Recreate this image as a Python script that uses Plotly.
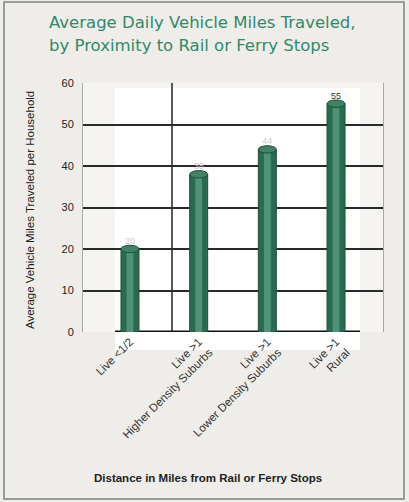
import plotly.graph_objects as go

categories = ["Live <1/2", "Live >1<br>Higher Density Suburbs", "Live >1<br>Lower Density Suburbs", "Live >1<br>Rural"]
values = [20, 38, 44, 55]
value_labels = ["20", "38", "44", "55"]
y_ticks = [0, 10, 20, 30, 40, 50, 60]

W, H = 409, 502
L, R, T, B = 83, 26, 83, 170
pw, ph = W - L - R, H - T - B

def px(x):
    return (x - L) / pw

def py(y):
    return (H - B - y) / ph

bar_w = 0.262
idx = list(range(len(categories)))

fig = go.Figure()
fig.add_trace(go.Bar(
    x=idx, y=values, width=bar_w,
    marker=dict(color="#2a6a51", line=dict(color="#1f4f3c", width=1)),
    text=value_labels, textposition="outside",
    textfont=dict(size=9, color=["#c9c9c9", "#c9c9c9", "#c9c9c9", "#333333"], family="Liberation Sans"),
    cliponaxis=False, hoverinfo="skip", showlegend=False,
))
fig.add_trace(go.Bar(
    x=idx, y=values, width=bar_w * 0.38,
    marker=dict(color="#4e9378", line=dict(width=0)),
    hoverinfo="skip", showlegend=False,
))

shapes = []
shapes.append(dict(type="rect", xref="paper", yref="paper",
                   x0=px(4), x1=px(404), y0=py(499), y1=py(2),
                   line=dict(color="#9b9b9b", width=2), fillcolor="rgba(0,0,0,0)", layer="below"))
shapes.append(dict(type="rect", xref="paper", yref="paper",
                   x0=px(115), x1=px(360), y0=py(350), y1=py(88),
                   line=dict(width=0), fillcolor="#ffffff", layer="below"))
shapes.append(dict(type="line", xref="paper", yref="paper",
                   x0=px(172), x1=px(172), y0=0, y1=1,
                   line=dict(color="#222222", width=1.5), layer="below"))
shapes.append(dict(type="line", xref="paper", yref="y",
                   x0=px(115), x1=px(360), y0=0, y1=0,
                   line=dict(color="#111111", width=3), layer="below"))
for i, v in zip(idx, values):
    shapes.append(dict(type="circle", xref="x", yref="y",
                       x0=i - bar_w / 2, x1=i + bar_w / 2, y0=v - 0.9, y1=v + 0.9,
                       fillcolor="#3f8266", line=dict(color="#1f4f3c", width=1), layer="above"))

title_font = dict(family="DejaVu Sans", size=16.5, color="#2f8a6b")
annotations = [
    dict(text="Average Daily Vehicle Miles Traveled,", xref="paper", yref="paper",
         x=px(47), y=py(22), xanchor="left", yanchor="middle", showarrow=False, font=title_font),
    dict(text="by Proximity to Rail or Ferry Stops", xref="paper", yref="paper",
         x=px(47), y=py(45), xanchor="left", yanchor="middle", showarrow=False, font=title_font),
    dict(text="<b>Distance in Miles from Rail or Ferry Stops</b>", xref="paper", yref="paper",
         x=px(208), y=py(478), xanchor="center", yanchor="middle", showarrow=False,
         font=dict(family="Liberation Sans", size=11.5, color="#222222")),
    dict(text="Average Vehicle Miles Traveled per Household", xref="paper", yref="paper",
         x=px(30), y=py(210), xanchor="center", yanchor="middle", showarrow=False, textangle=-90,
         font=dict(family="Liberation Sans", size=11.5, color="#222222")),
]

fig.update_layout(
    width=W, height=H,
    margin=dict(l=L, r=R, t=T, b=B),
    paper_bgcolor="#efede9",
    plot_bgcolor="#f5f4f1",
    barmode="overlay",
    shapes=shapes,
    annotations=annotations,
    xaxis=dict(
        range=[-0.684, 3.684], tickmode="array", tickvals=idx, ticktext=categories,
        tickangle=-45, tickfont=dict(family="Liberation Sans", size=11.5, color="#333333"),
        showgrid=False, zeroline=False, showline=False, ticks="",
    ),
    yaxis=dict(
        range=[0, 60], tickmode="array", tickvals=y_ticks,
        tickfont=dict(family="Liberation Sans", size=11, color="#222222"),
        showgrid=True, gridcolor="#2a2a2a", gridwidth=1.5,
        zeroline=False, showline=True, linecolor="#a8a8a8", linewidth=1, mirror=True,
        ticks="", ticklabelstandoff=6,
    ),
)

fig.write_html("out.html")
